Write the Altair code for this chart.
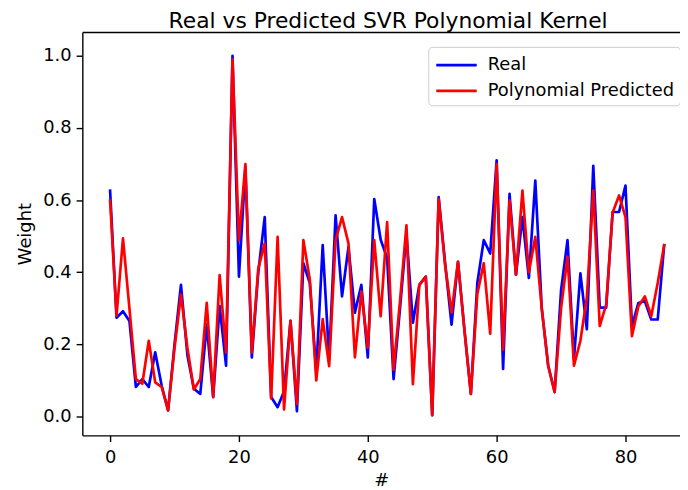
import altair as alt
import pandas as pd

# Values (index 0..86)
real = [0.626, 0.274, 0.292, 0.265, 0.082, 0.104, 0.082, 0.178, 0.086, 0.017,
        0.20, 0.365, 0.17, 0.077, 0.063, 0.255, 0.054, 0.306, 0.141, 1.0,
        0.388, 0.69, 0.164, 0.40, 0.553, 0.054, 0.026, 0.07, 0.265, 0.015,
        0.425, 0.37, 0.125, 0.475, 0.16, 0.558, 0.333, 0.47, 0.288, 0.365,
        0.164, 0.603, 0.49, 0.44, 0.104, 0.30, 0.507, 0.26, 0.365, 0.388,
        0.004, 0.608, 0.425, 0.255, 0.429, 0.24, 0.063, 0.37, 0.489, 0.452,
        0.71, 0.132, 0.617, 0.393, 0.553, 0.384, 0.654, 0.30, 0.141, 0.068,
        0.35, 0.489, 0.16, 0.397, 0.242, 0.695, 0.302, 0.302, 0.567, 0.567,
        0.64, 0.251, 0.315, 0.32, 0.269, 0.269, 0.475]
predicted = [0.599, 0.28, 0.494, 0.30, 0.104, 0.091, 0.21, 0.095, 0.082, 0.017,
             0.19, 0.338, 0.19, 0.075, 0.104, 0.315, 0.055, 0.392, 0.178, 0.99,
             0.489, 0.70, 0.178, 0.41, 0.48, 0.05, 0.498, 0.02, 0.265, 0.035,
             0.489, 0.38, 0.10, 0.27, 0.14, 0.489, 0.553, 0.48, 0.164, 0.347,
             0.191, 0.489, 0.278, 0.539, 0.13, 0.32, 0.53, 0.09, 0.365, 0.388,
             0.004, 0.603, 0.42, 0.288, 0.429, 0.24, 0.063, 0.34, 0.425, 0.23,
             0.70, 0.186, 0.599, 0.393, 0.626, 0.40, 0.498, 0.30, 0.141, 0.068,
             0.30, 0.443, 0.141, 0.21, 0.33, 0.626, 0.251, 0.31, 0.565, 0.613,
             0.553, 0.223, 0.306, 0.333, 0.278, 0.37, 0.475]
series_names = ["Real", "Polynomial Predicted"]
series_colors = ["#0000ff", "#ff0000"]
x_ticks = [0, 20, 40, 60, 80]
y_ticks = [0.0, 0.2, 0.4, 0.6, 0.8, 1.0]

rows = []
for order, (name, vals) in enumerate(zip(series_names, [real, predicted])):
    for i, v in enumerate(vals):
        rows.append({"idx": i, "value": v, "series": name, "order": order})
df = pd.DataFrame(rows)

FONT = "DejaVu Sans"

x_scale = alt.Scale(domain=[-4.31, 88.46], nice=False, zero=False)
y_scale = alt.Scale(domain=[-0.052, 1.066], nice=False, zero=False)

lines = alt.Chart(df).mark_line(strokeWidth=2.7, strokeJoin="round", strokeCap="square").encode(
    x=alt.X("idx:Q", scale=x_scale,
            axis=alt.Axis(values=x_ticks, title="#", orient="bottom", grid=False,
                          labelFontSize=18, titleFontSize=18, tickSize=6.3,
                          labelPadding=7, titlePadding=5)),
    y=alt.Y("value:Q", scale=y_scale,
            axis=alt.Axis(values=y_ticks, format=".1f", title="Weight", grid=False,
                          labelFontSize=18, titleFontSize=18, tickSize=6.3,
                          labelPadding=5, titlePadding=8)),
    stroke=alt.Stroke("series:N",
                      scale=alt.Scale(domain=series_names, range=series_colors),
                      legend=alt.Legend(title=None, orient="none", legendX=349, legendY=15,
                                        symbolType="M-1.7,0H1.7", symbolSize=576,
                                        symbolStrokeWidth=2.7, symbolOffset=10,
                                        labelFontSize=18, labelLimit=400,
                                        labelColor="black", labelFont=FONT,
                                        labelOffset=18, padding=5, rowPadding=3,
                                        strokeColor="#cccccc", fillColor="white",
                                        cornerRadius=4)),
    detail="series:N",
    order="order:Q",
)

top_frame = alt.Chart(pd.DataFrame({"idx": [0]})).mark_point(opacity=0).encode(
    x=alt.X("idx:Q", scale=x_scale,
            axis=alt.Axis(orient="top", labels=False, ticks=False, title=None,
                          domain=True, grid=False)),
)

chart = alt.layer(lines, top_frame).resolve_axis(x="independent").properties(
    width=603,
    height=407,
    autosize=alt.AutoSizeParams(type="none"),
    padding={"left": 75, "top": 22, "right": 0, "bottom": 53},
    title=alt.Title("Real vs Predicted SVR Polynomial Kernel", fontSize=22,
                    font=FONT, fontWeight="normal", color="black",
                    anchor="middle", dx=7, dy=7, offset=6),
).configure_view(stroke=None).configure_axis(
    labelFont=FONT, titleFont=FONT, labelColor="black", titleColor="black",
    titleFontWeight="normal", domainColor="black", domainWidth=1.4,
    tickColor="black", tickWidth=1.4,
)

chart.save("out.html", embed_options={"renderer": "svg", "actions": False})
